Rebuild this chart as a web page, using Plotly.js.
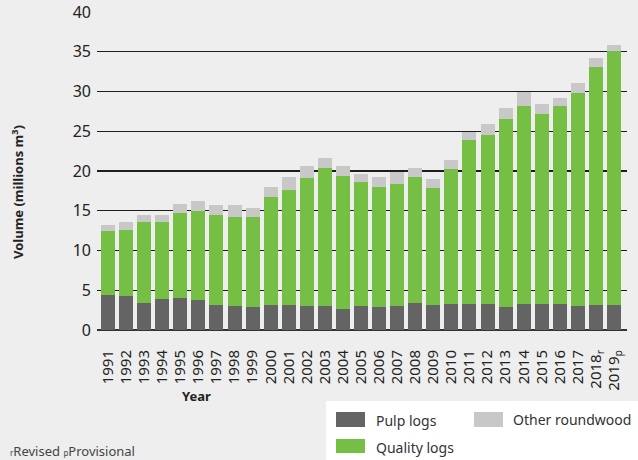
<!DOCTYPE html>
<html>
<head>
<meta charset="utf-8">
<script src="https://cdn.plot.ly/plotly-3.0.1.min.js"></script>
<style>html,body{margin:0;padding:0;background:#edeeed;}#chart{width:638px;height:460px;}</style>
</head>
<body>
<div id="chart"></div>
<script>
const years = ["1991","1992","1993","1994","1995","1996","1997","1998","1999","2000","2001","2002","2003","2004","2005","2006","2007","2008","2009","2010","2011","2012","2013","2014","2015","2016","2017","2018","2019"];
const yearLabels = ["1991","1992","1993","1994","1995","1996","1997","1998","1999","2000","2001","2002","2003","2004","2005","2006","2007","2008","2009","2010","2011","2012","2013","2014","2015","2016","2017","2018<sub>r</sub>","2019<sub>p</sub>"];
const pulpLogs = [4.4,4.3,3.4,3.9,4.0,3.8,3.15,3.0,2.9,3.15,3.15,3.0,3.0,2.65,3.0,2.9,3.0,3.4,3.15,3.25,3.25,3.25,2.9,3.25,3.25,3.25,3.0,3.15,3.15];
const qualityLogs = [8.05,8.3,10.2,9.7,10.7,11.2,11.35,11.2,11.3,13.55,14.45,16.1,17.4,16.75,15.6,15.1,15.4,15.85,14.75,17.0,20.65,21.25,23.6,24.95,23.95,24.95,26.8,29.95,31.95];
const otherRoundwood = [0.75,1.0,0.9,0.9,1.15,1.2,1.2,1.5,1.15,1.3,1.65,1.5,1.2,1.2,1.0,1.25,1.5,1.15,1.1,1.15,1.0,1.4,1.4,1.7,1.2,1.0,1.3,1.1,0.75];
const yTicks = [0,5,10,15,20,25,30,35,40];

const FONT = "Noto Sans, Open Sans, sans-serif";
const L = 97, R = 627, T = 12, B = 330;
const px = p => (p - L) / (R - L);
const py = p => (B - p) / (B - T);

const traces = [
  {type:'bar', name:'Pulp logs', x:years, y:pulpLogs, marker:{color:'#646464'}, hoverinfo:'skip'},
  {type:'bar', name:'Quality logs', x:years, y:qualityLogs, marker:{color:'#74bf44'}, hoverinfo:'skip'},
  {type:'bar', name:'Other roundwood', x:years, y:otherRoundwood, marker:{color:'#c8c8c9'}, hoverinfo:'skip'}
];

const shapes = [
  {type:'rect', xref:'paper', yref:'paper', x0:px(326), x1:px(640), y0:py(401), y1:py(462), fillcolor:'#ffffff', line:{width:0}, layer:'above'},
  {type:'rect', xref:'paper', yref:'paper', x0:px(336), x1:px(365), y0:py(412), y1:py(427), fillcolor:'#646464', line:{width:0}, layer:'above'},
  {type:'rect', xref:'paper', yref:'paper', x0:px(474), x1:px(503), y0:py(412), y1:py(427), fillcolor:'#c8c8c9', line:{width:0}, layer:'above'},
  {type:'rect', xref:'paper', yref:'paper', x0:px(336), x1:px(365), y0:py(439), y1:py(453), fillcolor:'#74bf44', line:{width:0}, layer:'above'}
];

const ann = (text, x, y, opts) => Object.assign({text:text, xref:'paper', yref:'paper', x:px(x), y:py(y), showarrow:false, font:{family:FONT, size:14, color:'#333'}}, opts||{});

const annotations = [
  ann('Pulp logs', 374, 420, {xanchor:'left', yanchor:'middle'}),
  ann('Other roundwood', 511, 419, {xanchor:'left', yanchor:'middle'}),
  ann('Quality logs', 374, 447, {xanchor:'left', yanchor:'middle'}),
  ann('<b>Volume (millions m<sup>3</sup>)</b>', 17, 192, {textangle:-90, xanchor:'center', yanchor:'middle', font:{family:FONT, size:13, color:'#222'}}),
  ann('<b>Year</b>', 196, 396, {xanchor:'center', yanchor:'middle', font:{family:FONT, size:13, color:'#222'}}),
  ann('<span style="font-size:8px">r</span>Revised <span style="font-size:8px">p</span>Provisional', 8, 440, {xanchor:'left', yanchor:'top', font:{family:FONT, size:13, color:'#444'}})
];

const layout = {
  width:638, height:460,
  margin:{l:L, r:638-R, t:T, b:460-B, pad:0},
  paper_bgcolor:'#edeeed', plot_bgcolor:'#edeeed',
  barmode:'stack', bargap:0.225,
  showlegend:false,
  font:{family:FONT, color:'#222'},
  xaxis:{type:'category', range:[-0.61, 28.72], tickmode:'array', tickvals:years, ticktext:yearLabels,
         tickangle:-90, tickfont:{family:FONT, size:15, color:'#222'}, ticks:'', showgrid:false,
         showline:false, zeroline:false, ticklabelstandoff:16, fixedrange:true},
  yaxis:{range:[0,40], tickmode:'array', tickvals:yTicks, ticks:'', showline:false,
         tickfont:{family:FONT, size:16, color:'#222'}, gridcolor:'#1e1e1e', gridwidth:1.2,
         zeroline:true, zerolinecolor:'#333', zerolinewidth:2, ticklabelstandoff:5, fixedrange:true},
  shapes:shapes, annotations:annotations
};

Plotly.newPlot('chart', traces, layout, {displayModeBar:false, staticPlot:true});
</script>
</body>
</html>
